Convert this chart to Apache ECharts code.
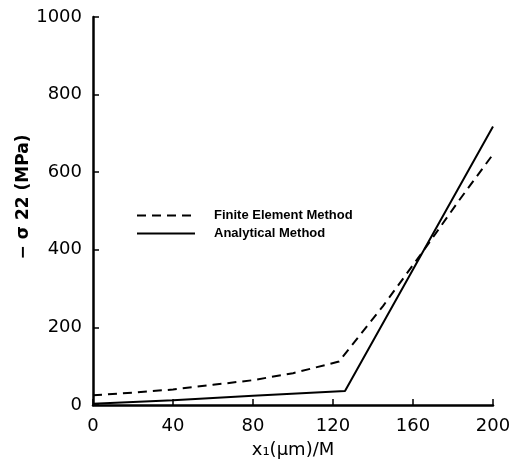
<!DOCTYPE html>
<html>
<head>
<meta charset="utf-8">
<script src="https://cdn.jsdelivr.net/npm/echarts@6/dist/echarts.min.js"></script>
<style>
  html, body { margin: 0; padding: 0; background: #fff; }
  #chart { width: 515px; height: 473px; }
</style>
</head>
<body>
<div id="chart"></div>
<script>
// Stress along x1: finite element vs analytical solution
const seriesNames = ['Finite Element Method', 'Analytical Method'];
const xFem = [0, 20, 40, 60, 80, 100, 123, 145, 165, 183, 200];
const yFem = [25, 32, 40, 52, 64, 82, 112, 255, 396, 527, 646];
const xAna = [0, 40, 80, 126, 200];
const yAna = [3, 12, 24, 36, 718];
const xTicks = [0, 40, 80, 120, 160, 200];
const yTicks = [0, 200, 400, 600, 800, 1000];

const pairs = (xs, ys) => xs.map((x, i) => [x, ys[i]]);

const font = 'DejaVu Sans';
const ink = '#000';

const chart = echarts.init(document.getElementById('chart'), null, { renderer: 'canvas' });
chart.setOption({
  backgroundColor: '#fff',
  animation: false,
  grid: { left: 93, right: 22, top: 17, bottom: 68, containLabel: false },
  legend: {
    orient: 'vertical',
    left: 131,
    top: 204,
    itemWidth: 58,
    itemHeight: 12,
    itemGap: 5,
    itemStyle: { opacity: 0 },
    textStyle: { fontFamily: 'Liberation Sans', fontWeight: 'bold', fontSize: 13, color: ink, padding: [0, 0, 0, 14] },
    data: seriesNames
  },
  xAxis: {
    type: 'value',
    min: 0, max: 200, interval: 40,
    name: 'x₁(μm)/M',
    nameLocation: 'middle',
    nameGap: 36,
    nameMoveOverlap: false,
    nameTextStyle: { fontFamily: font, fontSize: 18, color: ink },
    axisLine: { show: true, lineStyle: { color: ink, width: 2.5 } },
    axisTick: { show: true, inside: true, length: 6, lineStyle: { color: ink, width: 1.5 } },
    axisLabel: {
      fontFamily: font, fontSize: 18, color: ink, margin: 12,
      formatter: v => xTicks.includes(v) ? String(v) : ''
    },
    splitLine: { show: false }
  },
  yAxis: {
    type: 'value',
    min: 0, max: 1000, interval: 200,
    name: '− σ 22 (MPa)',
    nameLocation: 'middle',
    nameRotate: 90,
    nameGap: 61,
    nameMoveOverlap: false,
    nameTextStyle: { fontFamily: font, fontSize: 17, fontWeight: 'bold', color: ink, padding: [0, 0, 0, 28] },
    axisLine: { show: true, lineStyle: { color: ink, width: 2.5 } },
    axisTick: { show: true, inside: true, length: 6, lineStyle: { color: ink, width: 1.5 } },
    axisLabel: {
      fontFamily: font, fontSize: 18, color: ink, margin: 11,
      formatter: v => yTicks.includes(v) ? String(v) : ''
    },
    splitLine: { show: false }
  },
  series: [
    {
      name: seriesNames[0],
      type: 'line',
      data: pairs(xFem, yFem),
      symbol: 'none',
      lineStyle: { color: ink, width: 2, type: [9, 6] },
      itemStyle: { color: ink }
    },
    {
      name: seriesNames[1],
      type: 'line',
      data: pairs(xAna, yAna),
      symbol: 'none',
      lineStyle: { color: ink, width: 2, type: 'solid' },
      itemStyle: { color: ink }
    }
  ]
});
</script>
</body>
</html>
